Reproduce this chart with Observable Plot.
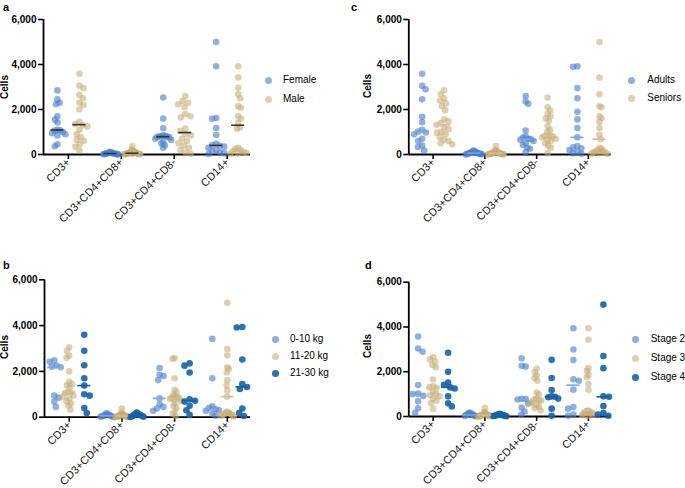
<!DOCTYPE html>
<html>
<head>
<meta charset="utf-8">
<script src="https://cdn.jsdelivr.net/npm/d3@7"></script>
<script src="https://cdn.jsdelivr.net/npm/@observablehq/plot@0.6"></script>
<style>
  html, body { margin: 0; padding: 0; background: #fff; }
  #root { position: relative; width: 685px; height: 488px; overflow: hidden; background: #fff;
          font-family: "Liberation Sans", Arial, Helvetica, sans-serif; color: #000; }
  .panel { position: absolute; }
  .lbl { position: absolute; white-space: nowrap; line-height: 1; }
  .panel svg [aria-label^="y-axis"] text { font-weight: bold; font-size: 10px; }
  .panel svg [aria-label^="x-axis"] text { font-size: 11px; fill: #1a1a1a; }
  .panel svg [aria-label$="axis tick"] { stroke-width: 1.6px; }
  .panel svg [aria-label="y-axis"] line, .panel svg [aria-label="x-axis"] line { stroke-width: 1.6px; }
</style>
</head>
<body>
<div id="root"></div>
<script>
// ---------------- DATA ----------------
const cellTypes = ["CD3+", "CD3+CD4+CD8+", "CD3+CD4+CD8-", "CD14+"];
const yTicks = [0, 2000, 4000, 6000];

// panel a: sex
const sexGroups = ["Female", "Male"];
const femaleCells = [
  [2850, 2450, 2300, 2230, 1700, 1550, 1420, 1100, 1080, 1060, 1000, 950, 900, 850, 450, 370],
  [120, 100, 90, 80, 70, 60, 50, 45, 40, 35, 30, 25, 20, 15, 10, 5],
  [2530, 1600, 1170, 850, 820, 810, 800, 795, 790, 760, 700, 650, 550, 500, 400, 300],
  [5000, 3920, 1620, 1590, 1180, 870, 480, 420, 390, 350, 300, 200, 150, 100, 60, 20]
];
const maleCells = [
  [3590, 3060, 2950, 2650, 2500, 2300, 2200, 2000, 1450, 1350, 1300, 1250, 1100, 900, 780, 650, 600, 450, 350, 180],
  [380, 220, 180, 150, 120, 100, 90, 80, 70, 60, 50, 45, 40, 35, 30, 25, 20, 15, 10, 5],
  [2600, 2380, 2300, 2230, 2100, 1800, 1700, 1650, 1150, 1050, 900, 850, 700, 600, 500, 400, 300, 200, 100, 30],
  [3920, 3420, 2970, 2680, 2500, 2150, 2080, 1700, 1600, 1400, 1200, 1150, 300, 250, 200, 150, 100, 80, 50, 20]
];

// panel c: age
const ageGroups = ["Adults", "Seniors"];
const adultCells = [
  [3590, 3050, 2900, 2450, 1680, 1430, 1100, 1020, 980, 900, 700, 600, 400, 330, 180],
  [180, 150, 120, 100, 90, 80, 70, 60, 50, 40, 30, 20, 15, 10, 5],
  [2600, 2350, 2250, 1060, 800, 750, 700, 680, 650, 600, 500, 420, 300, 250, 100],
  [3920, 3900, 2950, 2500, 1900, 1560, 1180, 760, 380, 320, 280, 200, 120, 60, 30]
];
const seniorCells = [
  [2850, 2680, 2500, 2400, 2270, 2150, 1970, 1560, 1470, 1400, 1320, 1200, 1120, 1000, 970, 900, 770, 650, 600, 500, 450],
  [380, 200, 150, 130, 110, 100, 90, 80, 70, 60, 50, 45, 40, 35, 30, 25, 20, 15, 10, 5, 2],
  [2530, 2100, 1950, 1800, 1700, 1600, 1500, 1250, 1100, 1000, 850, 820, 800, 750, 700, 650, 600, 500, 400, 300, 50],
  [5000, 3420, 2680, 2150, 2100, 1700, 1620, 1440, 1180, 880, 680, 300, 250, 200, 150, 120, 100, 80, 60, 40, 20]
];

// panel b: weight
const weightGroups = ["0-10 kg", "11-20 kg", "21-30 kg"];
const weight0Cells = [
  [2480, 2420, 2260, 2200, 2180, 940, 850, 680, 450],
  [170, 140, 100, 80, 60, 40, 30, 20, 10],
  [2150, 1850, 1800, 1620, 820, 560, 450, 380, 280],
  [3420, 1700, 480, 400, 350, 300, 280, 150, 60]
];
const weight1Cells = [
  [3050, 2900, 2680, 2600, 2000, 1550, 1450, 1400, 1300, 1100, 1080, 1050, 950, 900, 800, 700, 600, 500, 330],
  [380, 200, 150, 120, 100, 90, 80, 70, 60, 50, 45, 40, 35, 30, 25, 20, 15, 10, 5],
  [2580, 2550, 1700, 1200, 1100, 1000, 900, 880, 850, 820, 800, 750, 700, 600, 500, 400, 250, 150, 50],
  [5000, 2980, 2700, 2180, 2100, 1950, 1620, 1400, 1170, 900, 250, 200, 180, 150, 120, 100, 80, 50, 20]
];
const weight2Cells = [
  [3600, 2900, 2270, 1700, 1380, 1000, 940, 400, 180],
  [200, 150, 120, 100, 80, 60, 40, 20, 10],
  [2350, 2250, 1950, 780, 720, 680, 500, 300, 100],
  [3940, 3920, 2520, 1450, 1320, 1230, 380, 180, 50]
];

// panel d: stage
const stageGroups = ["Stage 2", "Stage 3", "Stage 4"];
const stage2Cells = [
  [3570, 3040, 2890, 1410, 1020, 1000, 920, 680, 370, 160],
  [180, 150, 120, 100, 80, 60, 40, 30, 20, 10],
  [2600, 2270, 2230, 790, 780, 760, 580, 400, 220, 80],
  [3940, 2990, 2520, 1660, 1600, 1200, 420, 350, 90, 30]
];
const stage3Cells = [
  [2650, 2550, 2450, 2300, 2200, 1650, 1350, 1300, 1280, 1100, 1000, 950, 900, 800, 700, 600, 340],
  [380, 200, 150, 120, 100, 90, 80, 70, 60, 50, 40, 30, 25, 20, 15, 10, 5],
  [2130, 1980, 1840, 1720, 1600, 1070, 980, 800, 770, 720, 700, 650, 590, 500, 440, 380, 270],
  [3940, 3430, 2160, 2040, 1870, 1750, 1450, 1190, 270, 240, 200, 170, 150, 120, 100, 60, 20]
];
const stage4Cells = [
  [2850, 2000, 1520, 1420, 1300, 1250, 900, 590, 450],
  [120, 100, 80, 60, 50, 40, 30, 20, 10],
  [2530, 1720, 1180, 900, 880, 860, 800, 350, 30],
  [5000, 2700, 2160, 900, 880, 470, 150, 90, 30]
];

// ---------------- STYLE / LAYOUT ----------------
const FONT = '"Liberation Sans", Arial, Helvetica, sans-serif';
const LIGHT = "rgba(74,128,204,0.62)";
const TAN = "rgba(196,172,118,0.58)";
const DARK = "rgba(22,98,165,0.9)";
const LIGHT_LINE = "#7ea5dc";
const TAN_LINE = "#d2bf96";
const DARK_LINE = "#17609f";
const xDomain = [-0.47, 3.44];

const panels = [
  { letter: "a", left: 0, top: 0, axisX: 43, axisEnd: 250, yTop: 19, yBottom: 154,
    groups: sexGroups, data: [femaleCells, maleCells], fills: [LIGHT, TAN], lines: ["#333", "#333"],
    offsets: [-11, 11], maxW: 8,
    legend: { dotX: 268, textX: 283, ys: [80, 99] }, letterPos: [3, 8], cellsPos: [5, 87] },
  { letter: "c", left: 365, top: 0, axisX: 408.3, axisEnd: 610.7, yTop: 19, yBottom: 154,
    groups: ageGroups, data: [adultCells, seniorCells], fills: [LIGHT, TAN], lines: [LIGHT_LINE, TAN_LINE],
    offsets: [-11, 11], maxW: 8,
    legend: { dotX: 631.7, textX: 647.3, ys: [80, 98] }, letterPos: [351, 8], cellsPos: [368, 86] },
  { letter: "b", left: 0, top: 260, axisX: 44, axisEnd: 250, yTop: 279.3, yBottom: 416.7,
    groups: weightGroups, data: [weight0Cells, weight1Cells, weight2Cells], fills: [LIGHT, TAN, DARK],
    lines: [LIGHT_LINE, TAN_LINE, DARK_LINE], offsets: [-15, 0, 15], maxW: 6.5,
    legend: { dotX: 275, textX: 290, ys: [339, 356, 373] }, letterPos: [3, 266], cellsPos: [5, 347] },
  { letter: "d", left: 365, top: 262, axisX: 408.3, axisEnd: 610.7, yTop: 281.7, yBottom: 416,
    groups: stageGroups, data: [stage2Cells, stage3Cells, stage4Cells], fills: [LIGHT, TAN, DARK],
    lines: [LIGHT_LINE, TAN_LINE, DARK_LINE], offsets: [-15, 0, 15], maxW: 6.5,
    legend: { dotX: 635, textX: 650.7, ys: [339, 358, 377] }, letterPos: [365, 266], cellsPos: [368, 346] }
];

// deterministic beeswarm (layout only) in pixel space
function swarm(ysPx, minD, maxW) {
  const n = ysPx.length;
  const order = d3.range(n).sort((a, b) => ysPx[a] - ysPx[b]);
  const xs = new Array(n).fill(0);
  const placed = [];
  order.forEach((i, k) => {
    const y = ysPx[i];
    const near = placed.filter(j => Math.abs(ysPx[j] - y) < minD);
    const cands = [0];
    near.forEach(j => {
      const dx = Math.sqrt(minD * minD - (ysPx[j] - y) ** 2);
      cands.push(xs[j] + dx, xs[j] - dx);
    });
    const sign = k % 2 ? 1 : -1;
    cands.sort((a, b) => (Math.abs(a) - Math.abs(b)) || (a - b) * sign);
    const best = cands.find(c => near.every(j => Math.hypot(xs[j] - c, ysPx[j] - y) >= minD - 1e-6));
    xs[i] = best === undefined ? 0 : best;
    placed.push(i);
  });
  const m = d3.max(xs, Math.abs) || 0;
  const s = m > maxW ? maxW / m : 1;
  return xs.map(x => x * s);
}

const root = document.getElementById("root");
function addLabel(text, x, y, css) {
  const d = document.createElement("div");
  d.className = "lbl";
  d.textContent = text;
  d.style.left = x + "px";
  d.style.top = y + "px";
  Object.assign(d.style, css || {});
  root.appendChild(d);
  return d;
}

panels.forEach(P => {
  const innerW = P.axisEnd - P.axisX;
  const innerH = P.yBottom - P.yTop;
  const u = innerW / (xDomain[1] - xDomain[0]);
  const pyPer = innerH / 6000;
  const points = [];
  const meds = [];
  P.data.forEach((groupCells, gi) => {
    groupCells.forEach((vals, ci) => {
      const xs = swarm(vals.map(v => -v * pyPer), 5.6, P.maxW);
      vals.forEach((v, k) => points.push({ g: gi, c: ci, v, x: ci + (P.offsets[gi] + xs[k]) / u }));
      const m = d3.median(vals);
      meds.push({ g: gi, m, x1: ci + (P.offsets[gi] - 6.5) / u, x2: ci + (P.offsets[gi] + 6.5) / u });
    });
  });

  const marginLeft = P.axisX - P.left;
  const marginTop = P.yTop - P.top;
  const marginRight = 8;
  const marginBottom = 78;
  const width = P.axisEnd - P.left + marginRight;
  const height = P.yBottom - P.top + marginBottom;

  const plot = Plot.plot({
    width, height, marginLeft, marginTop, marginRight, marginBottom,
    style: { background: "transparent", fontFamily: FONT, fontSize: "11px", color: "#000", overflow: "visible" },
    x: { domain: xDomain, ticks: d3.range(cellTypes.length), tickFormat: i => cellTypes[i],
         tickRotate: -45, tickSize: 5, tickPadding: 1, label: null },
    y: { domain: [0, 6000], ticks: yTicks, tickFormat: d3.format(","), tickSize: 5, tickPadding: 2, label: null },
    marks: [
      Plot.ruleY([0], { stroke: "#000", strokeWidth: 1.8 }),
      Plot.ruleX([xDomain[0]], { stroke: "#000", strokeWidth: 1.8 }),
      ...P.groups.map((g, gi) => Plot.dot(points.filter(p => p.g === gi),
        { x: "x", y: "v", r: 3.3, fill: P.fills[gi], stroke: "none" })),
      ...P.groups.map((g, gi) => Plot.ruleY(meds.filter(d => d.g === gi),
        { y: "m", x1: "x1", x2: "x2", stroke: P.lines[gi], strokeWidth: 1.6 }))
    ]
  });
  const wrap = document.createElement("div");
  wrap.className = "panel";
  wrap.style.left = P.left + "px";
  wrap.style.top = P.top + "px";
  wrap.appendChild(plot);
  root.appendChild(wrap);

  // panel letter
  addLabel(P.letter, P.letterPos[0], P.letterPos[1] - 6, { fontWeight: "bold", fontSize: "11px" });
  // y label
  const c = addLabel("Cells", P.cellsPos[0], P.cellsPos[1], { fontWeight: "bold", fontSize: "10px" });
  c.style.transform = "translate(-50%, -50%) rotate(-90deg)";
  // legend
  P.groups.forEach((g, gi) => {
    const dot = document.createElement("div");
    Object.assign(dot.style, {
      position: "absolute", width: "7px", height: "7px", borderRadius: "50%", background: P.fills[gi],
      left: (P.legend.dotX - 3.5) + "px", top: (P.legend.ys[gi] - 3.5) + "px"
    });
    root.appendChild(dot);
    const t = addLabel(g, P.legend.textX, P.legend.ys[gi], { fontSize: "10px" });
    t.style.transform = "translateY(-50%)";
  });
});
</script>
</body>
</html>
